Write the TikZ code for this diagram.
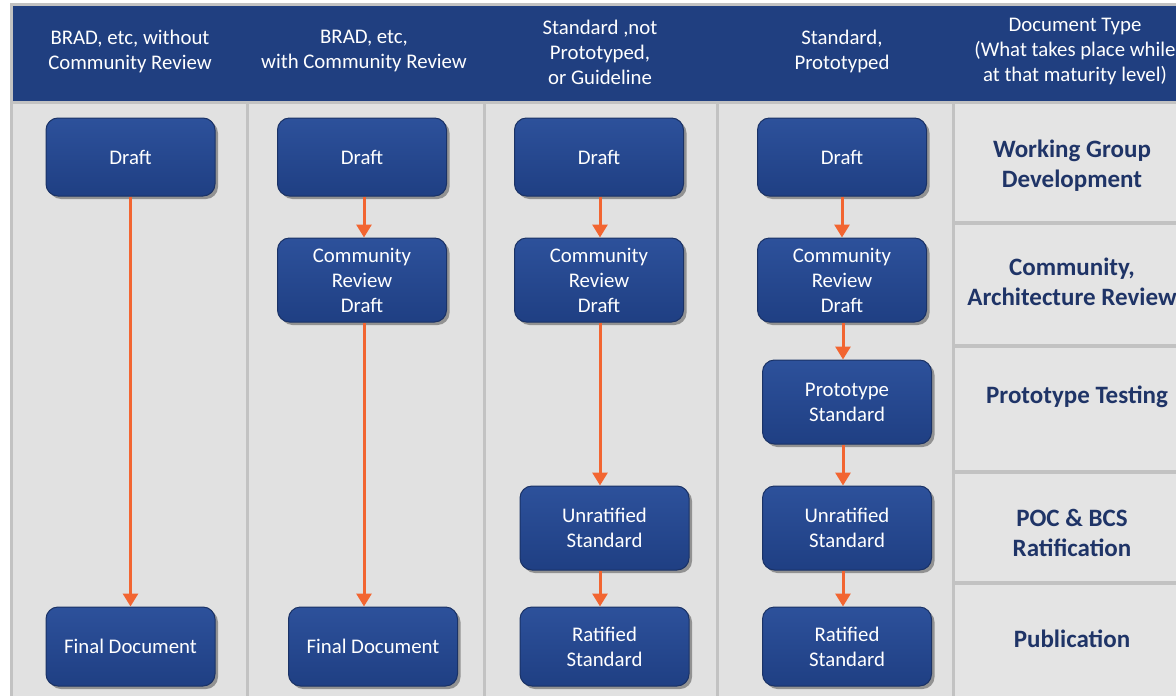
\documentclass[tikz,border=0pt]{standalone}
\usepackage{fontspec}
\setmainfont{Carlito}
\usetikzlibrary{arrows.meta,shadows}
\definecolor{hdrblue}{HTML}{203F80}
\definecolor{boxtop}{HTML}{2D519B}
\definecolor{boxbot}{HTML}{1F3F83}
\definecolor{boxline}{HTML}{1A3266}
\definecolor{colbg}{HTML}{E1E1E1}
\definecolor{cellbg}{HTML}{E4E4E4}
\definecolor{sepgray}{HTML}{C2C2C2}
\definecolor{arroworange}{HTML}{F26531}
\definecolor{lblnavy}{HTML}{1F3467}
\tikzset{
  stagebox/.style={draw=boxline, line width=1pt, rounded corners=12pt,
    top color=boxtop, bottom color=boxbot, text=white, align=center,
    minimum width=169pt, minimum height=78pt, inner sep=0pt,
    font=\fontsize{20.8}{25}\selectfont,
    drop shadow={shadow xshift=3pt, shadow yshift=-3pt, opacity=0.35, fill=black}},
  tallbox/.style={stagebox, minimum height=84pt},
  hdrtext/.style={text=white, align=center, font=\fontsize{20.8}{25}\selectfont, inner sep=0pt},
  lbltext/.style={text=lblnavy, align=center, font=\bfseries\fontsize{25}{30}\selectfont, inner sep=0pt},
  flow/.style={draw=arroworange, line width=3pt, -{Triangle[width=15pt,length=13pt]}}
}
\begin{document}
\begin{tikzpicture}[x=1pt,y=-1pt]
\useasboundingbox (0,0) rectangle (1176,696);
\fill[white] (0,0) rectangle (1176,696);
% frame
\fill[sepgray] (10,3) rectangle (1180,700);
\fill[hdrblue] (13,6) rectangle (1180,101);
% columns
\fill[colbg] (13,104) rectangle (246,700);
\fill[colbg] (249,104) rectangle (483,700);
\fill[colbg] (486,104) rectangle (716,700);
\fill[colbg] (719,104) rectangle (952,700);
% right cells
\fill[cellbg] (955,104) rectangle (1180,221);
\fill[cellbg] (955,225) rectangle (1180,344);
\fill[cellbg] (955,348) rectangle (1180,470);
\fill[cellbg] (955,474) rectangle (1180,581);
\fill[cellbg] (955,585) rectangle (1180,700);
% headers
\node[hdrtext] (h1) at (130,51) {BRAD, etc, without\\Community Review};
\node[hdrtext] (h2) at (364,51) {BRAD, etc,\\with Community Review};
\node[hdrtext] (h3) at (600,52) {Standard ,not\\Prototyped,\\or Guideline};
\node[hdrtext] (h4) at (842,51) {Standard,\\Prototyped};
\node[hdrtext] (h5) at (1075,52) {Document Type\\(What takes place while\\at that maturity level)};
% labels
\node[lbltext] (l1) at (1072,166) {Working Group\\Development};
\node[lbltext] (l2) at (1072,282) {Community,\\Architecture Review};
\node[lbltext] (l3) at (1077,397) {Prototype Testing};
\node[lbltext] (l4) at (1072,533) {POC \& BCS\\Ratification};
\node[lbltext] (l5) at (1072,639) {Publication};
% boxes
\node[stagebox] (d1) at (130.5,157) {Draft};
\node[stagebox, minimum height=79pt] (f1) at (130.5,646.5) {Final Document};
\node[stagebox] (d2) at (362,157) {Draft};
\node[tallbox] (c2) at (362,280) {Community\\Review\\Draft};
\node[stagebox, minimum height=79pt] (f2) at (373,646.5) {Final Document};
\node[stagebox] (d3) at (599,157) {Draft};
\node[tallbox] (c3) at (599,280) {Community\\Review\\Draft};
\node[tallbox] (u3) at (604.5,528) {Unratified\\Standard};
\node[stagebox, minimum height=79pt] (r3) at (604.5,646.5) {Ratified\\Standard};
\node[stagebox] (d4) at (842,157) {Draft};
\node[tallbox] (c4) at (842,280) {Community\\Review\\Draft};
\node[tallbox] (p4) at (847,402) {Prototype\\Standard};
\node[tallbox] (u4) at (847,528) {Unratified\\Standard};
\node[stagebox, minimum height=79pt] (r4) at (847,646.5) {Ratified\\Standard};
% arrows
\draw[flow] (d1.south) -- (f1.north);
\draw[flow] ([xshift=2pt]d2.south) -- ([xshift=2pt]c2.north);
\draw[flow] ([xshift=2pt]c2.south) -- ([xshift=2pt]c2.south |- f2.north);
\draw[flow] ([xshift=1pt]d3.south) -- ([xshift=1pt]c3.north);
\draw[flow] ([xshift=1pt]c3.south) -- ([xshift=1pt]c3.south |- u3.north);
\draw[flow] ([xshift=-4.5pt]u3.south) -- ([xshift=-4.5pt]r3.north);
\draw[flow] (d4.south) -- (c4.north);
\draw[flow] ([xshift=1pt]c4.south) -- ([xshift=1pt]c4.south |- p4.north);
\draw[flow] ([xshift=-4pt]p4.south) -- ([xshift=-4pt]u4.north);
\draw[flow] ([xshift=-4pt]u4.south) -- ([xshift=-4pt]r4.north);
\end{tikzpicture}
\end{document}
